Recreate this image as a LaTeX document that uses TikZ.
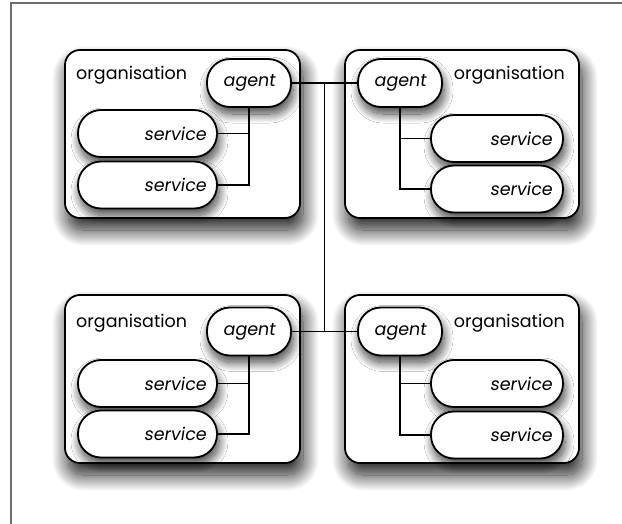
\documentclass[tikz,border=0pt]{standalone}
\usepackage{fontspec}
\setmainfont{Poppins}
\newfontfamily\slantfont[FakeSlant=0.15]{Poppins}
\usepackage{tikz}
\usetikzlibrary{shadows.blur}
\definecolor{framegray}{RGB}{110,110,110}

\tikzset{
  orgbox/.style={draw, line width=1.8pt, fill=white, rounded corners=15pt,
    minimum width=235pt, minimum height=168pt,
    blur shadow={shadow xshift=3pt, shadow yshift=-12pt, shadow blur radius=16pt,
      shadow blur steps=30, shadow opacity=90}},
  agentbox/.style={draw, line width=1.8pt, fill=white, rounded corners=23pt,
    minimum width=84pt, minimum height=48pt, font=\slantfont\fontsize{17.5}{19}\selectfont,
    blur shadow={shadow xshift=2pt, shadow yshift=-7pt, shadow blur radius=9pt,
      shadow blur steps=20, shadow opacity=75}},
  servicebox/.style={draw, line width=1.8pt, fill=white, rounded corners=23pt,
    minimum height=47pt, font=\slantfont\fontsize{17.5}{19}\selectfont,
    blur shadow={shadow xshift=2pt, shadow yshift=-7pt, shadow blur radius=9pt,
      shadow blur steps=20, shadow opacity=75}},
  orglabel/.style={font=\fontsize{17.5}{19}\selectfont, inner sep=0pt},
  link/.style={line width=1.4pt}
}

\begin{document}
\begin{tikzpicture}[x=1pt, y=-1pt]
   \useasboundingbox (0,0) rectangle (622,524);
   \draw[framegray, line width=1.5pt] (11,524) -- (11,3) -- (622,3);

   % organisations
   \draw[]
    (182.5,134) node[orgbox](o1) {}
    (462,134) node[orgbox, minimum width=234pt](o2) {}
    (182.5,379) node[orgbox](o3) {}
    (462,379) node[orgbox, minimum width=234pt](o4) {};

   \draw[]
    (76,75) node[orglabel, anchor=west](l1) {organisation}
    (565,75) node[orglabel, anchor=east](l2) {organisation}
    (76,323) node[orglabel, anchor=west](l3) {organisation}
    (565,323) node[orglabel, anchor=east](l4) {organisation};

   % services
   \draw[]
    (147.5,133.5) node[servicebox, minimum width=139pt, text width=117pt, align=right](s11) {service}
    (147.5,185) node[servicebox, minimum width=139pt, text width=117pt, align=right](s12) {service}
    (497,138.5) node[servicebox, minimum width=132pt, text width=110pt, align=right](s21) {service}
    (497,189) node[servicebox, minimum width=132pt, text width=110pt, align=right](s22) {service}
    (147.5,383.5) node[servicebox, minimum width=139pt, text width=117pt, align=right](s31) {service}
    (147.5,434) node[servicebox, minimum width=139pt, text width=117pt, align=right](s32) {service}
    (497,383.5) node[servicebox, minimum width=132pt, text width=110pt, align=right](s41) {service}
    (497,435) node[servicebox, minimum width=132pt, text width=110pt, align=right](s42) {service};

   % agents
   \draw[]
    (249,83) node[agentbox](a1) {agent}
    (400,83) node[agentbox](a2) {agent}
    (249,331.5) node[agentbox](a3) {agent}
    (400,331.5) node[agentbox](a4) {agent};

   \draw[link]
    (a1) |- (s11)
    (a1) |- (s12)
    (a2) |- (s21)
    (a2) |- (s22)
    (a3) |- (s31)
    (a3) |- (s32)
    (a4) |- (s41)
    (a4) |- (s42);

   % agents linked together
   \coordinate (hub) at ($(a1.east)!0.5!(a2.west)$);
   \draw[link] (a1) -- (a2);
   \draw[link] (a3) -- (a4);
   \draw[link] (hub) -- (hub |- a3);

  \end{tikzpicture}
\end{document}
